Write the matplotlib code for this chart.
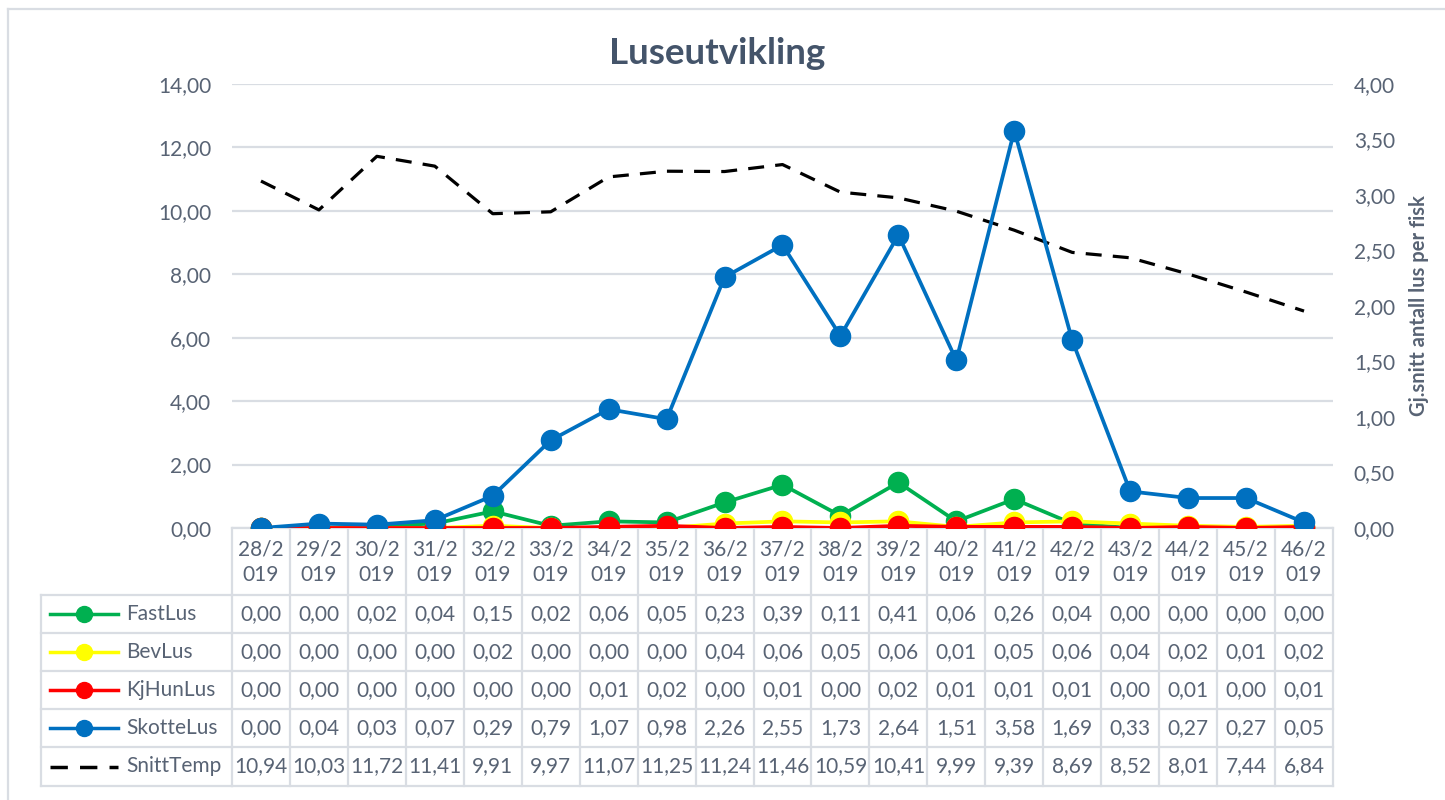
import matplotlib
matplotlib.use("Agg")
import matplotlib.pyplot as plt
from matplotlib.transforms import blended_transform_factory
from matplotlib.lines import Line2D

plt.rcParams['font.family'] = ['Lato', 'DejaVu Sans']

weeks = ["28/2019", "29/2019", "30/2019", "31/2019", "32/2019", "33/2019", "34/2019",
         "35/2019", "36/2019", "37/2019", "38/2019", "39/2019", "40/2019", "41/2019",
         "42/2019", "43/2019", "44/2019", "45/2019", "46/2019"]
fast_lus = [0.00, 0.00, 0.02, 0.04, 0.15, 0.02, 0.06, 0.05, 0.23, 0.39, 0.11, 0.41, 0.06, 0.26, 0.04, 0.00, 0.00, 0.00, 0.00]
bev_lus = [0.00, 0.00, 0.00, 0.00, 0.02, 0.00, 0.00, 0.00, 0.04, 0.06, 0.05, 0.06, 0.01, 0.05, 0.06, 0.04, 0.02, 0.01, 0.02]
kjhun_lus = [0.00, 0.00, 0.00, 0.00, 0.00, 0.00, 0.01, 0.02, 0.00, 0.01, 0.00, 0.02, 0.01, 0.01, 0.01, 0.00, 0.01, 0.00, 0.01]
skotte_lus = [0.00, 0.04, 0.03, 0.07, 0.29, 0.79, 1.07, 0.98, 2.26, 2.55, 1.73, 2.64, 1.51, 3.58, 1.69, 0.33, 0.27, 0.27, 0.05]
snitt_temp = [10.94, 10.03, 11.72, 11.41, 9.91, 9.97, 11.07, 11.25, 11.24, 11.46, 10.59, 10.41, 9.99, 9.39, 8.69, 8.52, 8.01, 7.44, 6.84]

series_names = ["FastLus", "BevLus", "KjHunLus", "SkotteLus", "SnittTemp"]
series_colors = ["#00B050", "#FFFF00", "#FF0000", "#0070C0", "#000000"]

TXT = "#586374"
GRID = "#D9DDE3"
FS = 15

W, H = 1445, 800
fig = plt.figure(figsize=(W / 100, H / 100), dpi=100)

# overlay in pixel coordinates
ov = fig.add_axes([0, 0, 1, 1], zorder=0)
ov.set_xlim(0, W)
ov.set_ylim(H, 0)
ov.axis('off')

L, R, T, B = 232, 1333, 84, 528
ax = fig.add_axes([L / W, 1 - B / H, (R - L) / W, (B - T) / H], zorder=2)
ax.patch.set_alpha(0)
ax2 = ax.twinx()

n = len(weeks)
x = list(range(n))

def fmt(v):
    return f"{v:.2f}".replace('.', ',')

# primary axis: temperature
ax.set_xlim(-0.5, n - 0.5)
ax.set_ylim(0, 14)
ax.set_yticks([0, 2, 4, 6, 8, 10, 12, 14])
ax.set_yticklabels([fmt(v) for v in ax.get_yticks()])
ax.yaxis.grid(True, color=GRID, lw=1.6, zorder=0)
ax.set_axisbelow(True)
ax.set_xticks([])
ax.plot(x, snitt_temp, color="#000000", lw=2.3, dashes=(5, 3.5), zorder=3)

# secondary axis: lice
ax2.set_ylim(0, 4)
ax2.set_yticks([0, 0.5, 1, 1.5, 2, 2.5, 3, 3.5, 4])
ax2.set_yticklabels([fmt(v) for v in ax2.get_yticks()])
for vals, c in zip([fast_lus, bev_lus, kjhun_lus, skotte_lus], series_colors[:4]):
    ax2.plot(x, vals, color=c, lw=2.7, marker='o', markersize=14.5, zorder=3)

for a in (ax, ax2):
    for s in a.spines.values():
        s.set_visible(False)
    a.tick_params(axis='y', length=0, labelsize=FS, colors=TXT, pad=15)
ax.spines['bottom'].set_visible(True)
ax.spines['bottom'].set_color(GRID)
ax.spines['bottom'].set_linewidth(1.6)

ax2.set_ylabel("Gj.snitt antall lus per fisk", fontsize=14.5, fontweight='bold',
               color=TXT, labelpad=10)

fig.text(717 / W, 1 - 53 / H, "Luseutvikling", ha='center', va='center',
         fontsize=26.5, fontweight='bold', color="#44546A")

# data table
bt = blended_transform_factory(ax.transData, ov.transData)
row_tops = [595, 633, 671, 709, 747, 786]
tab_left = 41
lkw = dict(color=GRID, lw=1.6, zorder=1)
for k in range(n + 1):
    ov.plot([k - 0.5, k - 0.5], [B, row_tops[-1]], transform=bt, **lkw)
for y in row_tops:
    ov.plot([tab_left, L], [y, y], **lkw)
    ov.plot([-0.5, n - 0.5], [y, y], transform=bt, **lkw)
ov.plot([tab_left, tab_left], [row_tops[0], row_tops[-1]], **lkw)

for i, w in enumerate(weeks):
    ov.text(i, 562, w[:4] + "\n" + w[4:], transform=bt, ha='center', va='center',
            fontsize=FS, color=TXT, linespacing=1.35)

table_rows = [fast_lus, bev_lus, kjhun_lus, skotte_lus, snitt_temp]
for r, (vals, name, c) in enumerate(zip(table_rows, series_names, series_colors)):
    yc = (row_tops[r] + row_tops[r + 1]) / 2
    for i, v in enumerate(vals):
        ov.text(i, yc, fmt(v), transform=bt, ha='center', va='center', fontsize=FS, color=TXT)
    if name == "SnittTemp":
        ov.add_line(Line2D([50, 118], [yc, yc], color=c, lw=2.5, dashes=(5, 3.5)))
    else:
        ov.add_line(Line2D([50, 118], [yc, yc], color=c, lw=2.5))
        ov.add_line(Line2D([84], [yc], color=c, marker='o', markersize=11.5))
    ov.text(126, yc, name, ha='left', va='center', fontsize=FS, color=TXT)

# chart border (left and top)
ov.plot([8, 8], [9, H], color=GRID, lw=1.6)
ov.plot([8, W], [9, 9], color=GRID, lw=1.6)

fig.savefig("out.png", dpi=100)
